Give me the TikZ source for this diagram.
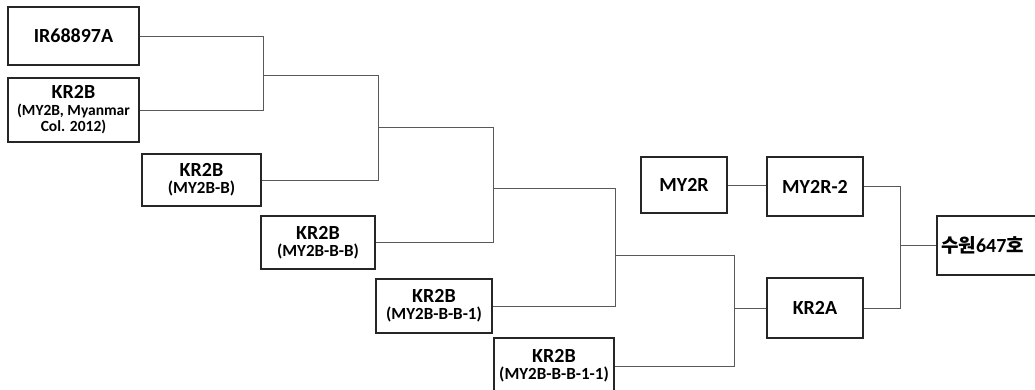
\documentclass[tikz,border=0pt]{standalone}
\usepackage{fontspec}
\setmainfont{Carlito}
\newfontfamily\kr{Noto Sans CJK KR}
\newcommand{\bigt}{\fontsize{20}{21}\selectfont\bfseries}
\newcommand{\subt}{\fontsize{17}{18}\selectfont\bfseries}
\newcommand{\subs}{\fontsize{15.5}{16}\selectfont\bfseries}
\begin{document}
\begin{tikzpicture}[x=1pt,y=-1pt,
  box/.style={draw=black!85, line width=1.3pt, inner sep=0pt, align=center, font=\bigt},
  conn/.style={draw=black!65, line width=0.9pt}]
\useasboundingbox[fill=white] (0,0) rectangle (1035,390);
% boxes
\node[box, minimum width=131, minimum height=58] (b1) at (73.5,36) {IR68897A};
\node[box, minimum width=131, minimum height=64] (b2) at (73.5,110) {KR2B\\[-4pt]{\subs (MY2B, Myanmar}\\[-5pt]{\subs Col. 2012)}};
\node[box, minimum width=119, minimum height=52] (b3) at (201.5,180) {KR2B\\[-4pt]{\subt (MY2B-B)}};
\node[box, minimum width=114, minimum height=53] (b4) at (318,242.5) {KR2B\\[-4pt]{\subt (MY2B-B-B)}};
\node[box, minimum width=116, minimum height=54] (b5) at (434,306) {KR2B\\[-4pt]{\subt (MY2B-B-B-1)}};
\node[box, minimum width=120, minimum height=56] (b6) at (554,366) {KR2B\\[-4pt]{\subt (MY2B-B-B-1-1)}};
\node[box, line width=2pt, minimum width=86, minimum height=56] (my2r) at (684,185) {MY2R};
\node[box, minimum width=96, minimum height=59] (my2r2) at (815,186.5) {MY2R-2};
\node[box, minimum width=96, minimum height=60] (kr2a) at (815,308) {KR2A};
\node[box, minimum width=103, minimum height=59] (sw) at (988.5,245.5) {{\kr\bfseries\fontsize{19}{20}\selectfont 수원}{\fontsize{20}{21}\selectfont 647}{\kr\bfseries\fontsize{19}{20}\selectfont 호}\hspace*{12pt}};
% junction points
\coordinate (j1) at (263,75);
\coordinate (j2) at (378,127);
\coordinate (j3) at (493,188);
\coordinate (j4) at (615,255);
\coordinate (j5) at (734,308);
\coordinate (j6) at (900,245.5);
% connectors
\draw[conn] (b1.east) -- (b1.east -| j1) -- (b2.east -| j1) -- (b2.east);
\draw[conn] (j1) -- (j1 -| j2) -- (b3.east -| j2) -- (b3.east);
\draw[conn] (j2) -- (j2 -| j3) -- (b4.east -| j3) -- (b4.east);
\draw[conn] (j3) -- (j3 -| j4) -- (b5.east -| j4) -- (b5.east);
\draw[conn] (j4) -- (j4 -| j5) -- (b6.east -| j5) -- (b6.east);
\draw[conn] (j5) -- (j5 -| kr2a.west);
\draw[conn] (my2r.east) -- (my2r.east -| my2r2.west);
\draw[conn] (my2r2.east) -- (my2r2.east -| j6) -- (kr2a.east -| j6) -- (kr2a.east);
\draw[conn] (j6) -- (j6 -| sw.west);
\end{tikzpicture}
\end{document}
